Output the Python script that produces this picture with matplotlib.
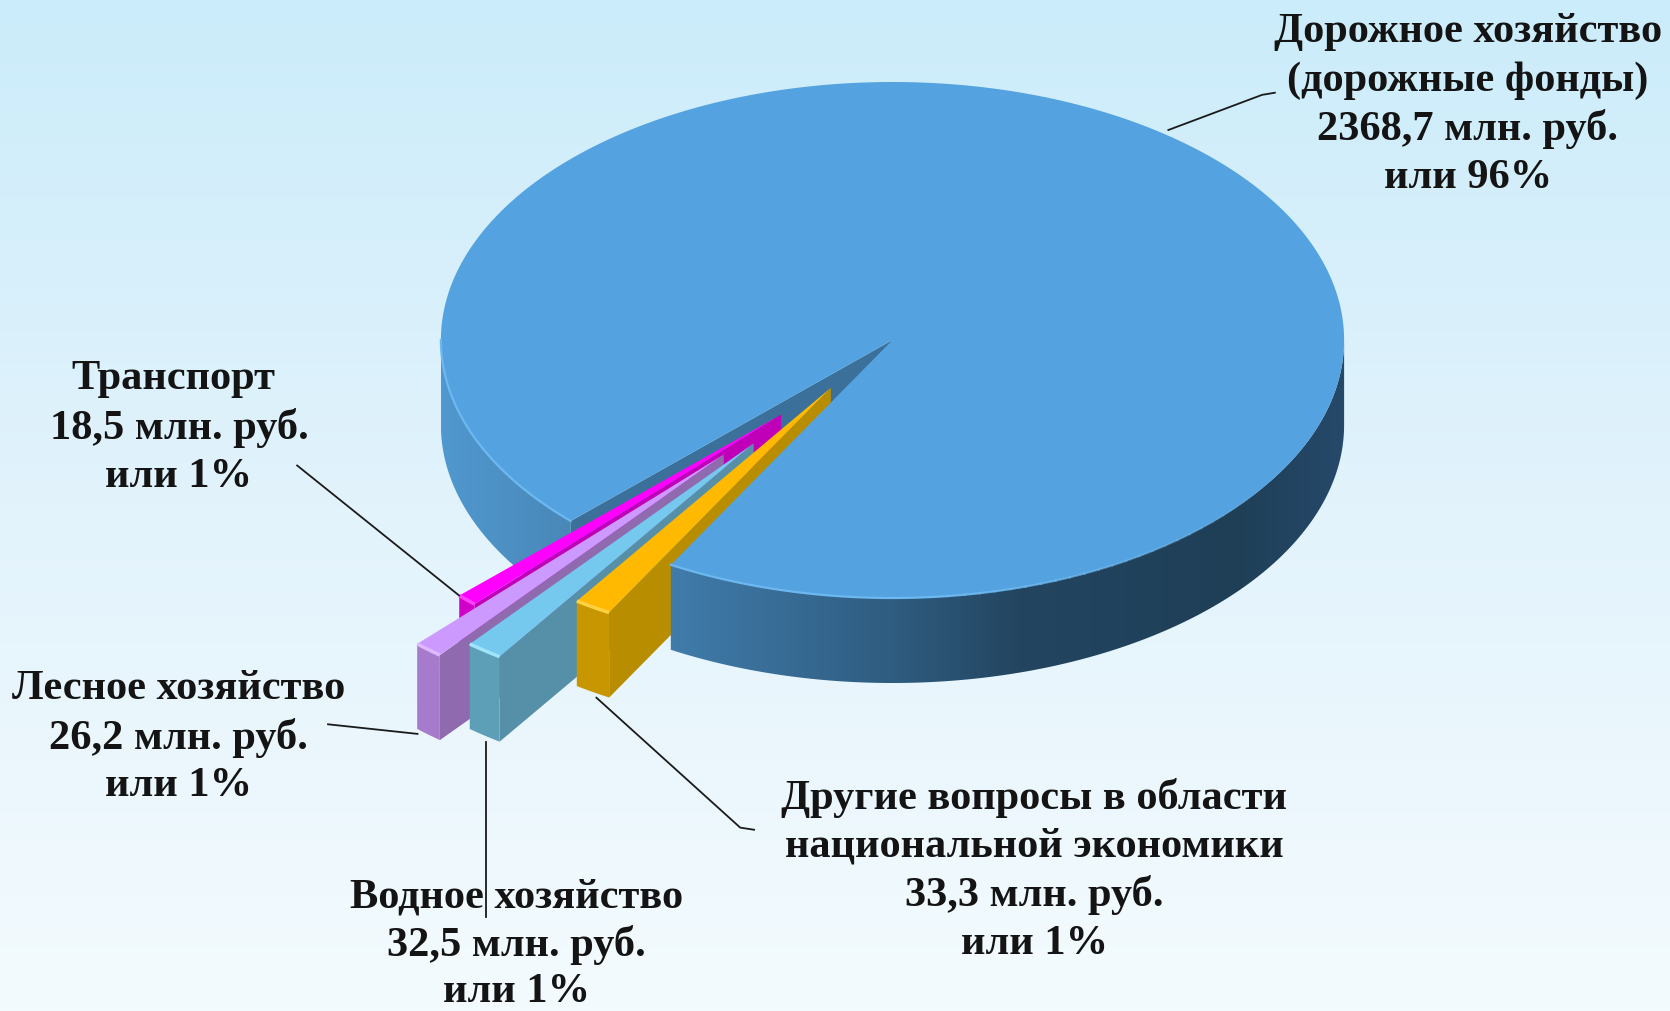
import numpy as np
import matplotlib
matplotlib.use("Agg")
import matplotlib.pyplot as plt
from matplotlib.patches import Polygon
from matplotlib.colors import LinearSegmentedColormap

W, H = 1670, 1012

names = ["Дорожное хозяйство\n(дорожные фонды)", "Другие вопросы в области\nнациональной экономики",
         "Водное хозяйство", "Лесное хозяйство", "Транспорт"]
values = [2368.7, 33.3, 32.5, 26.2, 18.5]
value_text = ["2368,7", "33,3", "32,5", "26,2", "18,5"]
percents = [96, 1, 1, 1, 1]
explode = [0.0, 0.23, 0.505, 0.58, 0.38]
explode_dir = [0.0, 233.6, 232.5, 229.9, 229.5]
top_colors = ["#54a2df", "#ffb900", "#75c8ee", "#cc99ff", "#ff00ff"]
wall_colors = ["#3a7099", "#b88d00", "#5590a8", "#8f6aae", "#c000b8"]
end_colors = ["#3a7099", "#c89600", "#5e9fb8", "#a77bcc", "#d000c8"]
edge_colors = ["#6db8f0", "#ffd040", "#a0e4fa", "#e0b8ff", "#ff40ff"]

cx, cy, a, b, depth = 892.5, 341.0, 451.6, 258.0, 85.0
start_angle = 240.6
total = sum(values)
sweeps = [v / total * 360 for v in values]


def pt(ang, off=(0.0, 0.0), r=1.0, z=0.0):
    t = np.radians(ang)
    return np.column_stack([cx + a * (off[0] + r * np.cos(t)),
                            cy - b * (off[1] + r * np.sin(t)) + z])


def arc(a0, a1, off=(0.0, 0.0), z=0.0):
    return pt(np.linspace(a0, a1, max(2, int(abs(a1 - a0) * 2) + 2)), off, 1.0, z)


fig = plt.figure(figsize=(W / 100, H / 100), dpi=100)
ax = fig.add_axes([0, 0, 1, 1])

bg = LinearSegmentedColormap.from_list("bg", ["#cbecfa", "#e2f3fc", "#f4fbfe"])
ax.imshow(np.linspace(0, 1, 256)[:, None], extent=(0, W, H, 0), aspect="auto", cmap=bg, zorder=0)

side = LinearSegmentedColormap.from_list("side", [
    (0.0, "#5098cf"), (0.14, "#4a88b8"), (0.27, "#3f7aa8"), (0.50, "#2f5c80"),
    (0.64, "#234560"), (0.88, "#1f3f57"), (1.0, "#26496a")])


def rim(a0, a1, z):
    top = arc(a0, a1)
    bot = arc(a0, a1, z=depth)[::-1]
    poly = Polygon(np.vstack([top, bot]), closed=True, transform=ax.transData, fc="none", ec="none")
    ax.add_patch(poly)
    im = ax.imshow(np.linspace(0, 1, 512)[None, :], extent=(cx - a, cx + a, H, 0),
                   aspect="auto", cmap=side, zorder=z)
    im.set_clip_path(poly)


main_end = start_angle + sweeps[0] - 360
# left rim and the cut wall of the big slice
rim(180, main_end, 1)
p0 = np.array([[cx, cy]])
e = pt(main_end)
ax.add_patch(Polygon(np.vstack([p0, e, e + [0, depth], p0 + [0, depth]]), fc=wall_colors[0], ec="none", zorder=2))

# exploded slices, back to front
ang = start_angle
bounds = []
for i in range(1, 5):
    bounds.append((ang - sweeps[i], ang))
    ang -= sweeps[i]
z = 10
for i in range(4, 0, -1):
    lo, hi = bounds[i - 1]
    t = np.radians(explode_dir[i])
    off = (explode[i] * np.cos(t), explode[i] * np.sin(t))
    apex = np.array([[cx + a * off[0], cy - b * off[1]]])
    hi_pt = pt(hi, off)
    ax.add_patch(Polygon(np.vstack([apex, hi_pt, hi_pt + [0, depth], apex + [0, depth]]),
                         fc=wall_colors[i], ec="none", zorder=z))
    ax.add_patch(Polygon(np.vstack([arc(lo, hi, off), arc(lo, hi, off, depth)[::-1]]),
                         fc=end_colors[i], ec="none", zorder=z + 1))
    ax.add_patch(Polygon(np.vstack([apex, arc(lo, hi, off)]), fc=top_colors[i], ec="none", zorder=z + 2))
    edge = arc(lo, hi, off)
    ax.plot(edge[:, 0], edge[:, 1], color=edge_colors[i], lw=2.5, zorder=z + 3, solid_capstyle="butt")
    z += 5

# right rim in front of slices, then top of the big slice
rim(start_angle, 360, 40)
top_arc = arc(start_angle, start_angle + sweeps[0])
ax.add_patch(Polygon(np.vstack([p0, top_arc]), fc=top_colors[0], ec="none", zorder=42))
h = arc(180, main_end)
ax.plot(h[:, 0], h[:, 1], color=edge_colors[0], lw=1.6, zorder=43)
h = arc(start_angle, 275)
ax.plot(h[:, 0], h[:, 1], color=edge_colors[0], lw=1.6, zorder=43)
fade = np.linspace(275, 325, 26)
for q0, q1 in zip(fade[:-1], fade[1:]):
    h = arc(q0, q1 + 0.3)
    ax.plot(h[:, 0], h[:, 1], color=edge_colors[0], lw=1.6, zorder=43,
            alpha=float(1 - (q0 - 275) / 50), solid_capstyle="butt")

# leader lines
s = W / 1568
leaders = [
    [(1097, 123), (1185, 90), (1197, 88)],
    [(279, 438), (431, 560)],
    [(308, 681), (392, 690)],
    [(456, 698), (456, 862)],
    [(560, 656), (695, 778), (708, 780)],
]
for L in leaders:
    L = np.array(L) * s
    ax.plot(L[:, 0], L[:, 1], color="#1a1a1a", lw=1.3, zorder=50)

# labels: (index, centre x, first line y, line spacing, in 1568-wide coordinates)
label_pos = [(0, 1378, 30, 45.7), (1, 971, 749, 45.7), (2, 485, 843, 44.0),
             (3, 168, 647, 45.7), (4, 168, 356, 45.7)]
for i, x, y, spacing in label_pos:
    lines = names[i].split("\n") + [f"{value_text[i]} млн. руб.", f"или {percents[i]}%"]
    for k, line in enumerate(lines):
        xt = x - 5 if (i == 4 and k == 0) else x
        ax.text(xt * s, (y + k * spacing) * s, line, ha="center", va="center", fontsize=30.5,
                family="Liberation Serif", weight="bold", color="#141414", zorder=60)

ax.set_xlim(0, W)
ax.set_ylim(H, 0)
ax.axis("off")
fig.savefig("out.png", dpi=100)
